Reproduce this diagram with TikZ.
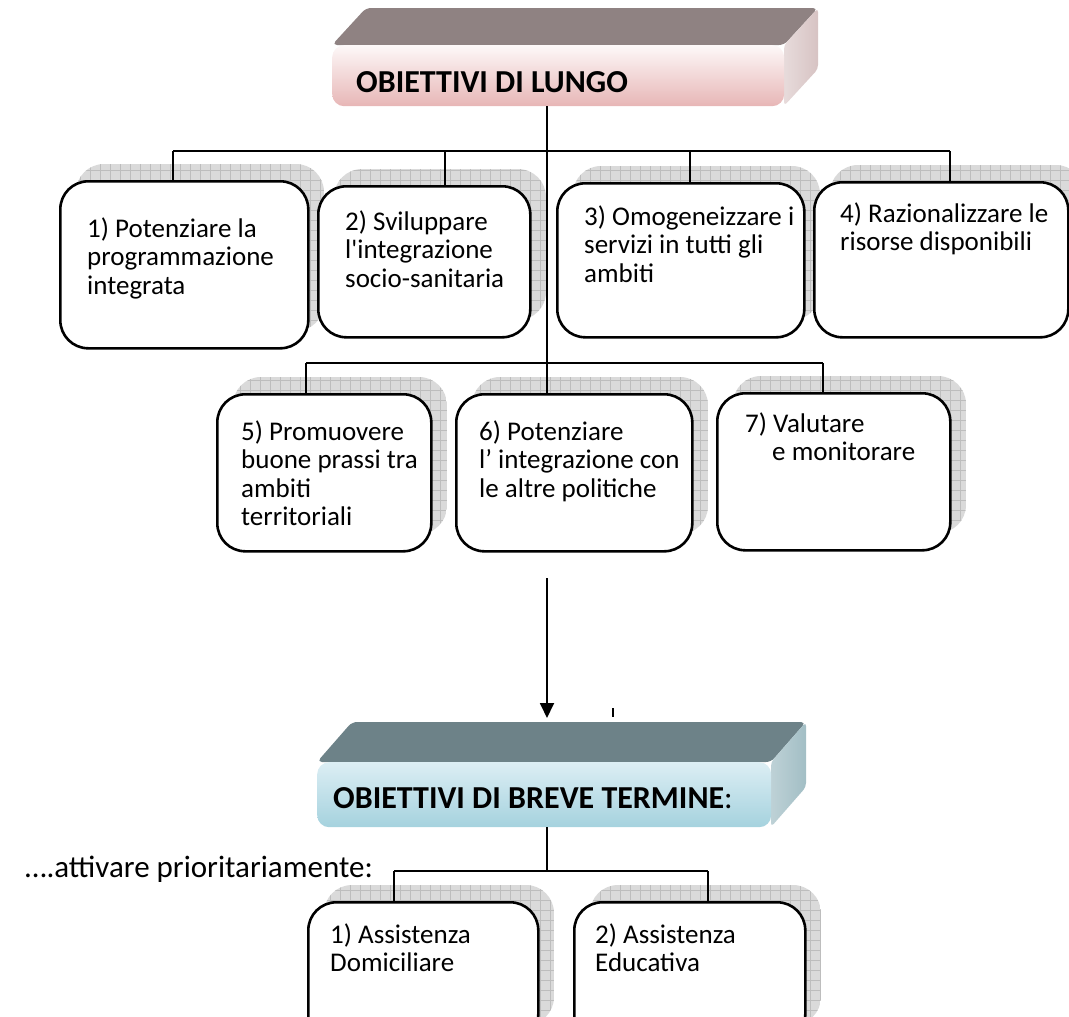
\documentclass[tikz,border=0pt]{standalone}
\usepackage{fontspec}
\setmainfont{Carlito}
\usetikzlibrary{arrows.meta,positioning}

\definecolor{lungotop}{HTML}{8F8282}
\definecolor{lungoside}{HTML}{D7C3C3}
\definecolor{lungolight}{HTML}{FDF8F8}
\definecolor{lungodark}{HTML}{E7B6B6}
\definecolor{brevetop}{HTML}{6D8288}
\definecolor{breveside}{HTML}{A2BEC5}
\definecolor{brevelight}{HTML}{DCEEF4}
\definecolor{brevedark}{HTML}{A5D2DE}
\definecolor{shadegray}{HTML}{DADADA}
\definecolor{gridgray}{HTML}{BDBDBD}

\tikzset{
  obox/.style={draw=black, line width=2.6pt, rounded corners=28pt, fill=white,
    anchor=north west, inner sep=0pt},
  otxt/.style={align=left, inner sep=0pt, anchor=base west,
    font=\fontsize{27}{28.5}\selectfont},
  hfront/.style={draw=none, rounded corners=12pt, anchor=north west, inner sep=0pt},
  htxt/.style={inner sep=0pt, anchor=base west, font=\fontsize{32}{36}\selectfont\bfseries},
  conn/.style={draw=black, line width=1.8pt},
}

% gridded shadow behind a box: x, y (top left), width, height
\newcommand{\gshadow}[4]{%
  \begin{scope}
    \clip[rounded corners=28pt] (#1+17,#2-16) rectangle ++(#3,#4);
    \fill[shadegray] (#1+17,#2-16) rectangle ++(#3,#4);
    \draw[gridgray, line width=0.6pt, step=10pt] (#1+17,#2-16) grid ++(#3,#4);
  \end{scope}}
% name, x, y, width, height
\newcommand{\goalbox}[5]{%
  \gshadow{#2}{#3}{#4}{#5}
  \node[obox, minimum width=#4, minimum height=#5] (#1) at (#2,#3) {};}

\begin{document}
\begin{tikzpicture}[x=1pt,y=-1pt]
\useasboundingbox (0,0) rectangle (1069,1017);
\clip (0,0) rectangle (1069,1017);

% header: long term
\fill[lungotop, rounded corners=5pt] (332,45) -- (366,8) -- (818,8) -- (784,45) -- cycle;
\shade[left color=lungoside!60!white, right color=lungoside, rounded corners=4pt]
  (784,45) -- (818,8) -- (818,69) -- (784,106) -- cycle;
\node[hfront, top color=lungolight, bottom color=lungodark,
  minimum width=452, minimum height=61] (h1) at (332,45) {};
\node[htxt] (h1t) at (356,92) {OBIETTIVI DI LUNGO};

% boxes
\goalbox{b1}{59}{180}{248}{167}
\goalbox{b2}{317}{185}{212}{151}
\goalbox{b3}{556}{182}{247}{154}
\goalbox{b4}{813}{181}{254}{155}
\goalbox{b5}{216}{393}{214}{157}
\goalbox{b6}{455}{393}{236}{157}
\goalbox{b7}{716}{392}{233}{157}

% connectors
\coordinate (trunk) at (547,0);
\draw[conn] (trunk |- h1.south) -- (trunk |- b6.north);
\draw[conn] (173,151) -- (950,151);
\foreach \x/\b in {173/b1,445/b2,690/b3,950/b4} {
  \coordinate (drop) at (\x,151);
  \draw[conn] (drop) -- (drop |- \b.north);
}
\draw[conn] (306,363) -- (823,363);
\foreach \x/\b in {306/b5,823/b7} {
  \coordinate (drop) at (\x,363);
  \draw[conn] (drop) -- (drop |- \b.north);
}

% texts (base = last line)
\node[otxt] (t1) at (87,294) {1) Potenziare la\\programmazione\\integrata};
\node[otxt] (t2) at (345,287) {2) Sviluppare\\l\textquotesingle integrazione\\socio-sanitaria};
\node[otxt] (t3) at (584,282) {3) Omogeneizzare i\\servizi in tutti gli\\ambiti};
\node[otxt] (t4) at (840,250.5) {4) Razionalizzare le\\risorse disponibili};
\node[otxt] (t5) at (241,525.5) {5) Promuovere\\buone prassi tra\\ambiti\\territoriali};
\node[otxt] (t6) at (479,497) {6) Potenziare\\l’ integrazione con\\le altre politiche};
\node[otxt] (t7) at (745,460.5) {7) Valutare\\\hspace*{27pt}e monitorare};

% arrow down
\coordinate (a0) at (547,578);
\coordinate (a1) at (547,718);
\draw[conn, -{Triangle[length=15pt,width=14pt]}] (a0) -- (a1);
\draw[line width=1.6pt] (613,708) -- (613,717);

% header: short term
\fill[brevetop, rounded corners=5pt] (317,762) -- (352,722) -- (806,722) -- (771,762) -- cycle;
\shade[left color=breveside!70!white, right color=breveside, rounded corners=4pt]
  (771,762) -- (806,722) -- (806,787) -- (771,827) -- cycle;
\node[hfront, top color=brevelight, bottom color=brevedark,
  minimum width=454, minimum height=65] (h2) at (317,762) {};
\node[htxt] (h2t) at (333,808) {OBIETTIVI DI BREVE TERMINE\mdseries:};

\node[inner sep=0pt, anchor=base east, font=\fontsize{31}{34}\selectfont]
  (note) at (373,877) {….attivare prioritariamente:};

% short-term boxes
\goalbox{c1}{307}{901}{230}{140}
\goalbox{c2}{573}{901}{231}{140}
\draw[conn] (trunk |- h2.south) -- (547,871);
\draw[conn] (394,871) -- (708,871);
\foreach \x/\b in {394/c1,708/c2} {
  \coordinate (drop) at (\x,871);
  \draw[conn] (drop) -- (drop |- \b.north);
}
\node[otxt] (u1) at (330,971.5) {1) Assistenza\\Domiciliare};
\node[otxt] (u2) at (595,971.5) {2) Assistenza\\Educativa};
\end{tikzpicture}
\end{document}
